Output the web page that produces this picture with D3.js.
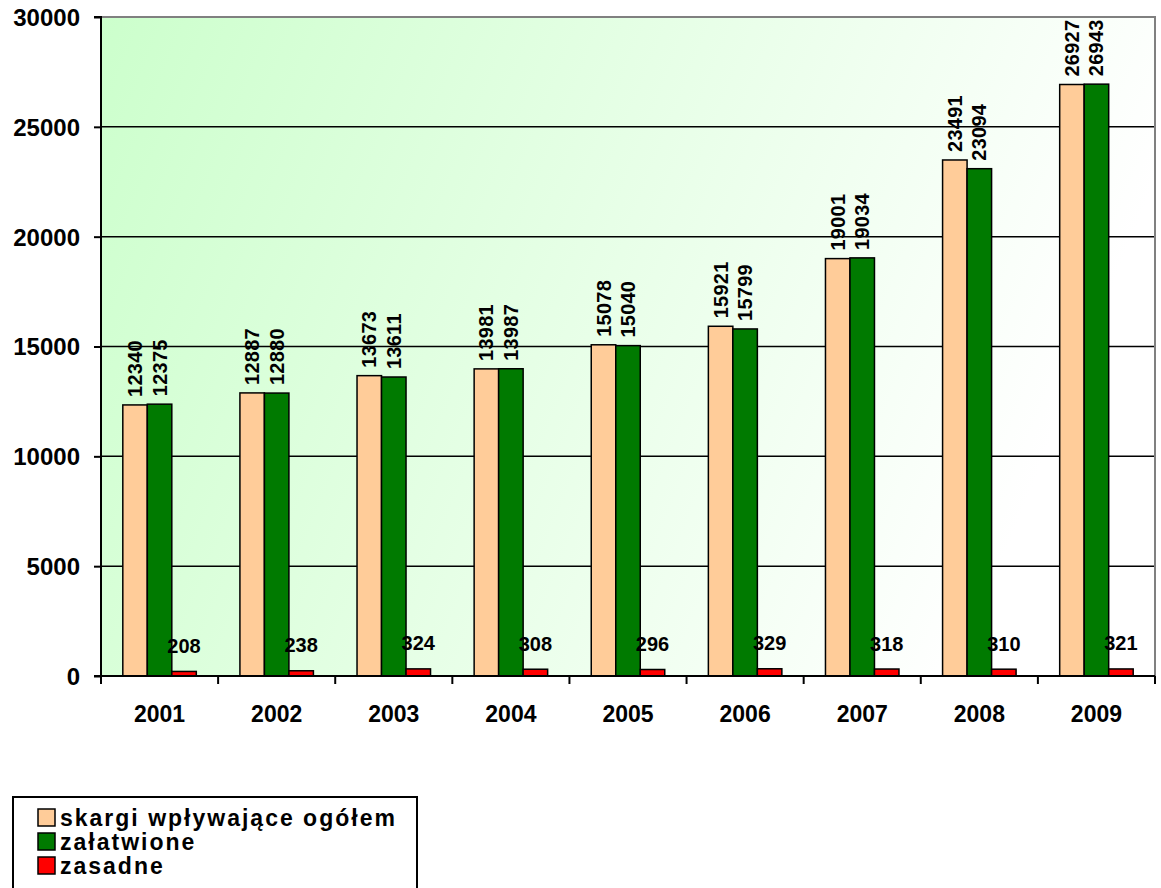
<!DOCTYPE html>
<html><head><meta charset="utf-8">
<script src="https://cdn.jsdelivr.net/npm/d3@7"></script>
<style>body{margin:0;background:#fff}svg{display:block}text{font-family:"Liberation Sans",Arial,sans-serif;font-weight:bold}</style>
</head><body>
<script>
const years = ["2001","2002","2003","2004","2005","2006","2007","2008","2009"];
const skargi = [12340,12887,13673,13981,15078,15921,19001,23491,26927];
const zalatwione = [12375,12880,13611,13987,15040,15799,19034,23094,26943];
const zasadne = [208,238,324,308,296,329,318,310,321];
const seriesNames = ["skargi wpływające ogółem","załatwione","zasadne"];
const colors = ["#ffcc99","#007a00","#ff0000"];
const yTicks = [0,5000,10000,15000,20000,25000,30000];

const W=1161,H=888;
const m={l:101,t:17,r:1155,b:676};
const svg=d3.select("body").append("svg").attr("width",W).attr("height",H);
const defs=svg.append("defs");
const g=defs.append("linearGradient").attr("id","bg").attr("x1","0").attr("y1","0").attr("x2","1").attr("y2","0.25");
g.append("stop").attr("offset","0").attr("stop-color","#ccffcc");
g.append("stop").attr("offset","1").attr("stop-color","#ffffff");

const x=d3.scaleBand().domain(years).range([m.l,m.r]);
const y=d3.scaleLinear().domain([0,30000]).range([m.b,m.t]);
const bw=24.5;
const xs=d3.scaleBand().domain([0,1,2]).range([0,bw*3]);

svg.append("rect").attr("x",m.l).attr("y",m.t).attr("width",m.r-m.l).attr("height",m.b-m.t).attr("fill","url(#bg)");
svg.append("g").selectAll("line").data(yTicks.filter(d=>d>0&&d<30000)).join("line")
 .attr("x1",m.l).attr("x2",m.r).attr("y1",d=>y(d)).attr("y2",d=>y(d)).attr("stroke","#000").attr("stroke-width",1.5);
svg.append("path").attr("d",`M${m.l},${m.t}H${m.r}V${m.b}`).attr("fill","none").attr("stroke","#808080").attr("stroke-width",2);

const data=[skargi,zalatwione,zasadne];
const off=(x.bandwidth()-bw*3)/2;
data.forEach((arr,si)=>{
  svg.append("g").selectAll("rect").data(arr).join("rect")
   .attr("x",(d,i)=>x(years[i])+off+xs(si))
   .attr("y",d=>y(d)).attr("width",xs.bandwidth()).attr("height",d=>y(0)-y(d))
   .attr("fill",colors[si]).attr("stroke","#000").attr("stroke-width",1.5);
});
[0,1].forEach(si=>{
  svg.append("g").selectAll("text").data(data[si]).join("text")
   .attr("transform",(d,i)=>`translate(${x(years[i])+off+xs(si)+xs.bandwidth()/2+7},${y(d)-8}) rotate(-90) scale(0.95,1)`)
   .attr("font-size",21).attr("letter-spacing",0.3).attr("fill","#000").text(d=>d);
});
svg.append("g").selectAll("text").data(zasadne).join("text")
 .attr("x",(d,i)=>x(years[i])+off+xs(2)+xs.bandwidth()/2).attr("y",d=>y(d)-18.5)
 .attr("text-anchor","middle").attr("font-size",20).text(d=>d);

const ya=svg.append("g").attr("transform",`translate(${m.l},0)`).call(d3.axisLeft(y).tickValues(yTicks).tickSize(7).tickFormat(d=>d));
ya.select(".domain").attr("stroke","#000").attr("stroke-width",2).attr("d",`M-7,${m.t}H0V${m.b}H-7`);
ya.selectAll(".tick line").attr("stroke","#000").attr("stroke-width",2);
ya.selectAll(".tick text").attr("font-size",24).attr("fill","#000").attr("x",-21).attr("dy","0.35em").attr("font-family","Liberation Sans, Arial, sans-serif").attr("font-weight","bold");

const xa=svg.append("g").attr("transform",`translate(0,${m.b})`).call(d3.axisBottom(x).tickSize(0));
xa.select(".domain").attr("stroke","#000").attr("stroke-width",2).attr("d",`M${m.l},0H${m.r}`);
xa.selectAll(".tick text").attr("font-size",23).attr("fill","#000").attr("y",46).attr("dy","0").attr("font-family","Liberation Sans, Arial, sans-serif").attr("font-weight","bold");
svg.append("g").selectAll("line").data(years.concat(["end"])).join("line")
 .attr("x1",(d,i)=>m.l+i*x.step()).attr("x2",(d,i)=>m.l+i*x.step())
 .attr("y1",m.b).attr("y2",m.b+8).attr("stroke","#000").attr("stroke-width",2);

const lg=svg.append("g");
lg.append("rect").attr("x",13).attr("y",797).attr("width",404).attr("height",100).attr("fill","#fff").attr("stroke","#000").attr("stroke-width",2);
seriesNames.forEach((n,i)=>{
  lg.append("rect").attr("x",38).attr("y",809+i*24).attr("width",17).attr("height",17).attr("fill",colors[i]).attr("stroke","#000").attr("stroke-width",1.5);
  lg.append("text").attr("x",60).attr("y",826+i*24).attr("font-size",23).attr("letter-spacing",2).text(n);
});
</script>
</body></html>
